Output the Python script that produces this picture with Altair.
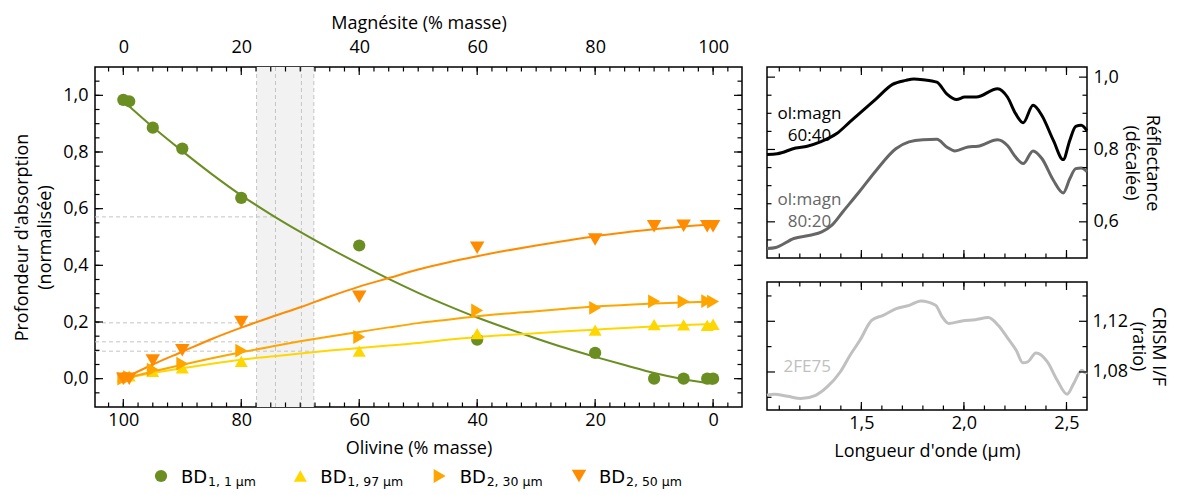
import altair as alt
import pandas as pd

# ---------------- data ----------------
series_keys = ["BD1.1", "BD1.97", "BD2.30", "BD2.50"]
legend_sub = ["1, 1 \u03bcm", "1, 97 \u03bcm", "2, 30 \u03bcm", "2, 50 \u03bcm"]
series_colors = ["#6b8e23", "#ffd700", "#ffa500", "#ff8c00"]
series_shapes = ["circle", "triangle-up", "triangle-right", "triangle-down"]
series_sizes = [150, 210, 210, 210]

olivine = [100, 99, 95, 90, 80, 60, 40, 20, 10, 5, 1, 0]
bd_1_1 = [0.984, 0.979, 0.886, 0.812, 0.638, 0.470, 0.138, 0.091, 0.0, 0.0, 0.0, 0.0]
bd_1_97 = [0.008, 0.010, 0.026, 0.038, 0.061, 0.097, 0.159, 0.171, 0.191, 0.190, 0.188, 0.192]
bd_2_30 = [0.0, 0.005, 0.032, 0.053, 0.099, 0.147, 0.241, 0.250, 0.273, 0.272, 0.274, 0.272]
bd_2_50 = [0.0, 0.0, 0.064, 0.100, 0.200, 0.289, 0.462, 0.491, 0.538, 0.540, 0.538, 0.538]

fit_olivine = [100, 95, 90, 85, 80, 75, 70, 65, 60, 55, 50, 45, 40, 35, 30, 25, 20, 15, 10, 5, 0]
fit_1_1 = [0.980, 0.888, 0.803, 0.722, 0.647, 0.580, 0.518, 0.460, 0.405, 0.352, 0.303, 0.258, 0.216,
           0.178, 0.142, 0.108, 0.077, 0.048, 0.020, -0.002, -0.018]
fit_1_97 = [0.0, 0.020, 0.037, 0.053, 0.067, 0.078, 0.089, 0.099, 0.108, 0.117, 0.126, 0.137, 0.147,
            0.154, 0.160, 0.167, 0.173, 0.179, 0.184, 0.189, 0.193]
fit_2_30 = [0.0, 0.025, 0.049, 0.072, 0.093, 0.113, 0.132, 0.149, 0.165, 0.181, 0.196, 0.208, 0.220,
            0.230, 0.238, 0.247, 0.255, 0.260, 0.265, 0.269, 0.272]
fit_2_50 = [0.0, 0.050, 0.095, 0.140, 0.180, 0.217, 0.252, 0.290, 0.325, 0.355, 0.385, 0.410, 0.432,
            0.452, 0.470, 0.487, 0.503, 0.516, 0.527, 0.537, 0.544]

band_lo = [67.7]
band_hi = [77.4]
vline_x = [77.4, 74.2, 69.8, 67.7]
hline_y = [0.571, 0.197, 0.130, 0.097]
hline_end = [74.2, 77.4, 71.0, 67.7]

wl_6040 = [1.04, 1.09, 1.18, 1.236, 1.30, 1.38, 1.444, 1.508, 1.572, 1.652, 1.716, 1.756, 1.80, 1.868,
           1.916, 1.964, 2.004, 2.06, 2.164, 2.212, 2.252, 2.289, 2.337, 2.38, 2.436, 2.484, 2.516,
           2.545, 2.572, 2.60]
refl_6040 = [0.786, 0.788, 0.804, 0.809, 0.821, 0.844, 0.876, 0.908, 0.940, 0.980, 0.991, 0.995, 0.993,
             0.986, 0.954, 0.938, 0.945, 0.945, 0.968, 0.945, 0.899, 0.874, 0.922, 0.894, 0.825, 0.772,
             0.825, 0.864, 0.867, 0.852]
wl_8020 = [1.04, 1.083, 1.171, 1.25, 1.307, 1.355, 1.41, 1.49, 1.572, 1.668, 1.732, 1.80, 1.868, 1.916,
           1.956, 2.02, 2.068, 2.164, 2.212, 2.252, 2.289, 2.337, 2.38, 2.436, 2.484, 2.516, 2.545,
           2.572, 2.60]
refl_8020 = [0.526, 0.529, 0.554, 0.563, 0.572, 0.590, 0.628, 0.683, 0.742, 0.802, 0.821, 0.827, 0.828,
             0.807, 0.796, 0.807, 0.809, 0.827, 0.811, 0.779, 0.761, 0.796, 0.775, 0.715, 0.680, 0.719,
             0.747, 0.749, 0.739]

wl_crism = [1.04, 1.075, 1.14, 1.205, 1.277, 1.333, 1.397, 1.445, 1.493, 1.55, 1.606, 1.67, 1.733, 1.79,
            1.862, 1.894, 1.926, 1.99, 2.055, 2.119, 2.167, 2.215, 2.255, 2.287, 2.311, 2.351, 2.407,
            2.455, 2.503, 2.535, 2.575, 2.591, 2.60]
crism = [1.0616, 1.0624, 1.0608, 1.0590, 1.0616, 1.0682, 1.0800, 1.0932, 1.1050, 1.1208, 1.1247, 1.1300,
         1.1326, 1.1360, 1.1326, 1.1235, 1.1182, 1.1203, 1.1213, 1.1229, 1.1168, 1.1063, 1.0971, 1.0872,
         1.0880, 1.0950, 1.0880, 1.0734, 1.0624, 1.0708, 1.0813, 1.0793, 1.0800]

ann_6040_text = ["ol:magn\n60:40"]
ann_8020_text = ["ol:magn\n80:20"]
ann_refl_x = [1.247]
ann_6040_y = [0.899]
ann_8020_y = [0.659]
ann_crism_text = ["2FE75"]
ann_crism_x = [1.236]
ann_crism_y = [1.0842]

# tick positions
lx_major = [0, 20, 40, 60, 80, 100]
lx_minor = [round(-2.5 + 2.5 * i, 2) for i in range(43)]
ly_major = [0.0, 0.2, 0.4, 0.6, 0.8, 1.0]
ly_minor = [round(-0.05 + 0.05 * i, 2) for i in range(23)]
rx_major = [1.5, 2.0, 2.5]
rx_minor = [round(1.1 + 0.1 * i, 2) for i in range(15)]
rt_y_major = [0.6, 0.8, 1.0]
rt_y_minor = [0.55, 0.65, 0.70, 0.75, 0.85, 0.90, 0.95]
rb_y_major = [1.08, 1.12]
rb_y_minor = [1.06, 1.10, 1.14]

# ---------------- styling ----------------
FONT = "Open Sans"
FS = 18
TMAJ, TMIN = 8, 4.5
LW, LH = 647, 340
RW, RTH, RBH = 320, 191, 128
X_LEFT_DOMAIN = [-4.9, 104.8]

comma1 = "replace(format(datum.value, '.1f'), '.', ',')"
comma2 = "replace(format(datum.value, '.2f'), '.', ',')"

color_scale = alt.Scale(domain=series_keys, range=series_colors)
shape_scale = alt.Scale(domain=series_keys, range=series_shapes)
size_scale = alt.Scale(domain=series_keys, range=series_sizes)


def frame_ticks(xs, ys, xmaj, xmin, ymaj, ymin, W, H):
    layers = []
    for vals, L in ((xmaj, TMAJ), (xmin, TMIN)):
        d = pd.DataFrame({"v": vals})
        b = alt.Chart(d).mark_rule(color="black", strokeWidth=1.2)
        xe = alt.X("v:Q", scale=xs, axis=None)
        layers.append(b.encode(x=xe, y=alt.value(H), y2=alt.value(H - L)))
        layers.append(b.encode(x=xe, y=alt.value(0), y2=alt.value(L)))
    for vals, L in ((ymaj, TMAJ), (ymin, TMIN)):
        d = pd.DataFrame({"v": vals})
        b = alt.Chart(d).mark_rule(color="black", strokeWidth=1.2)
        ye = alt.Y("v:Q", scale=ys, axis=None)
        layers.append(b.encode(y=ye, x=alt.value(0), x2=alt.value(L)))
        layers.append(b.encode(y=ye, x=alt.value(W), x2=alt.value(W - L)))
    return layers


# ---------------- left panel ----------------
xs_left = alt.Scale(domain=X_LEFT_DOMAIN, reverse=True, nice=False, zero=False)
ys_left = alt.Scale(domain=[-0.1, 1.1], nice=False, zero=False)

ax_bottom = alt.Axis(orient="bottom", values=lx_major, title="Olivine (% masse)",
                     labelExpr="format(datum.value, 'd')", labelPadding=4, titlePadding=10)
ax_top = alt.Axis(orient="top", values=lx_major, title="Magnésite (% masse)",
                  labelExpr="format(100 - datum.value, 'd')", labelPadding=11, titlePadding=6)
ax_left = alt.Axis(orient="left", values=ly_major, title=["Profondeur d'absorption", "(normalisée)"],
                   labelExpr=comma1, labelPadding=7, titlePadding=8, titleLineHeight=23)

pts_rows = []
for key, vals in zip(series_keys, [bd_1_1, bd_1_97, bd_2_30, bd_2_50]):
    for o, v in zip(olivine, vals):
        pts_rows.append({"olivine": o, "value": v, "series": key})
pts_df = pd.DataFrame(pts_rows)

fit_rows = []
for key, vals in zip(series_keys, [fit_1_1, fit_1_97, fit_2_30, fit_2_50]):
    for o, v in zip(fit_olivine, vals):
        fit_rows.append({"olivine": o, "value": v, "series": key})
fit_df = pd.DataFrame(fit_rows)

band = alt.Chart(pd.DataFrame({"lo": band_lo, "hi": band_hi})).mark_rect(color="#f2f2f2").encode(
    x=alt.X("lo:Q", scale=xs_left, axis=ax_top), x2="hi:Q")
vlines = alt.Chart(pd.DataFrame({"x": vline_x})).mark_rule(
    color="#c4c4c4", strokeDash=[4, 3], strokeWidth=1).encode(x=alt.X("x:Q", scale=xs_left, axis=None))
hlines = alt.Chart(pd.DataFrame({"y": hline_y, "x1": hline_end,
                                 "x0": [X_LEFT_DOMAIN[1]] * len(hline_y)})).mark_rule(
    color="#c4c4c4", strokeDash=[4, 3], strokeWidth=1).encode(
    x=alt.X("x0:Q", scale=xs_left, axis=None), x2="x1:Q",
    y=alt.Y("y:Q", scale=ys_left, axis=None))
fits = alt.Chart(fit_df).mark_line(strokeWidth=2, interpolate="monotone").encode(
    x=alt.X("olivine:Q", scale=xs_left, axis=None),
    y=alt.Y("value:Q", scale=ys_left, axis=None),
    color=alt.Color("series:N", scale=color_scale, legend=None),
    detail="series:N")
pts = alt.Chart(pts_df).mark_point(filled=True, opacity=1).encode(
    x=alt.X("olivine:Q", scale=xs_left, axis=ax_bottom),
    y=alt.Y("value:Q", scale=ys_left, axis=ax_left),
    color=alt.Color("series:N", scale=color_scale, legend=None),
    shape=alt.Shape("series:N", scale=shape_scale, legend=None),
    size=alt.Size("series:N", scale=size_scale, legend=None))

left = alt.layer(band, vlines, hlines, fits, pts,
                 *frame_ticks(xs_left, ys_left, lx_major, lx_minor, ly_major, ly_minor, LW, LH)
                 ).properties(width=LW, height=LH).resolve_axis(x="independent", y="independent")

# ---------------- right top panel ----------------
xs_r = alt.Scale(domain=[1.04, 2.6], nice=False, zero=False)
ys_rt = alt.Scale(domain=[0.50, 1.028], nice=False, zero=False)
ys_rb = alt.Scale(domain=[1.05, 1.151], nice=False, zero=False)

ax_rt = alt.Axis(orient="right", values=rt_y_major, title=["Réflectance", "(décalée)"],
                 labelExpr=comma1, labelPadding=6, titlePadding=3, titleLineHeight=21)
ax_rb_y = alt.Axis(orient="right", values=rb_y_major, title=["CRISM I/F", "(ratio)"],
                   labelExpr=comma2, labelPadding=5, titlePadding=1, titleLineHeight=20)
ax_rb_x = alt.Axis(orient="bottom", values=rx_major, title="Longueur d'onde (µm)",
                   labelExpr=comma1, labelPadding=4, titlePadding=10)

l6040 = alt.Chart(pd.DataFrame({"wl": wl_6040, "r": refl_6040})).mark_line(
    color="black", strokeWidth=3, interpolate="monotone").encode(
    x=alt.X("wl:Q", scale=xs_r, axis=None), y=alt.Y("r:Q", scale=ys_rt, axis=ax_rt))
l8020 = alt.Chart(pd.DataFrame({"wl": wl_8020, "r": refl_8020})).mark_line(
    color="#666666", strokeWidth=3, interpolate="monotone").encode(
    x=alt.X("wl:Q", scale=xs_r, axis=None), y=alt.Y("r:Q", scale=ys_rt, axis=None))
ann_6040 = alt.Chart(pd.DataFrame({"t": ann_6040_text, "x": ann_refl_x, "y": ann_6040_y})).mark_text(
    fontSize=17, lineBreak="\n", lineHeight=22, align="center", baseline="middle", color="black").encode(
    x=alt.X("x:Q", scale=xs_r, axis=None), y=alt.Y("y:Q", scale=ys_rt, axis=None), text="t:N")
ann_8020 = alt.Chart(pd.DataFrame({"t": ann_8020_text, "x": ann_refl_x, "y": ann_8020_y})).mark_text(
    fontSize=17, lineBreak="\n", lineHeight=22, align="center", baseline="middle", color="#666666").encode(
    x=alt.X("x:Q", scale=xs_r, axis=None), y=alt.Y("y:Q", scale=ys_rt, axis=None), text="t:N")

rtop = alt.layer(l6040, l8020, ann_6040, ann_8020,
                 *frame_ticks(xs_r, ys_rt, rx_major, rx_minor, rt_y_major, rt_y_minor, RW, RTH)
                 ).properties(width=RW, height=RTH).resolve_axis(x="independent", y="independent")

# ---------------- right bottom panel ----------------
lcrism = alt.Chart(pd.DataFrame({"wl": wl_crism, "r": crism})).mark_line(
    color="#c0c0c0", strokeWidth=3, interpolate="monotone").encode(
    x=alt.X("wl:Q", scale=xs_r, axis=ax_rb_x), y=alt.Y("r:Q", scale=ys_rb, axis=ax_rb_y))
ann_rb = alt.Chart(pd.DataFrame({"t": ann_crism_text, "x": ann_crism_x, "y": ann_crism_y})).mark_text(
    fontSize=17, color="#c0c0c0", align="center", baseline="middle").encode(
    x=alt.X("x:Q", scale=xs_r, axis=None), y=alt.Y("y:Q", scale=ys_rb, axis=None), text="t:N")

rbot = alt.layer(lcrism, ann_rb,
                 *frame_ticks(xs_r, ys_rb, rx_major, rx_minor, rb_y_major, rb_y_minor, RW, RBH)
                 ).properties(width=RW, height=RBH).resolve_axis(x="independent", y="independent")

right = alt.vconcat(rtop, rbot, spacing=20)

# ---------------- legend row ----------------
leg_df = pd.DataFrame({"series": series_keys, "main": ["BD"] * 4, "sub": legend_sub})
lx = alt.X("series:N", scale=alt.Scale(domain=series_keys, type="point", range=[66, 484], padding=0),
           axis=None)
leg_sym = alt.Chart(leg_df).mark_point(filled=True, opacity=1).encode(
    x=lx, y=alt.value(8),
    color=alt.Color("series:N", scale=color_scale, legend=None),
    shape=alt.Shape("series:N", scale=shape_scale, legend=None),
    size=alt.Size("series:N", scale=size_scale, legend=None))
leg_main = alt.Chart(leg_df).mark_text(align="left", baseline="alphabetic", dx=20, dy=6.5, fontSize=18,
                                       font="DejaVu Sans", color="black").encode(
    x=lx, y=alt.value(8), text="main:N")
leg_sub = alt.Chart(leg_df).mark_text(align="left", baseline="alphabetic", dx=47, dy=9.5, fontSize=12.5,
                                      font="DejaVu Sans", color="black").encode(
    x=lx, y=alt.value(8), text="sub:N")
legend = alt.layer(leg_sym, leg_main, leg_sub).properties(
    width=LW, height=16, view=alt.ViewBackground(stroke="transparent"))

chart = alt.vconcat(alt.hconcat(left, right, spacing=16), legend, spacing=6).configure(
    font=FONT, padding={"left": 5, "top": 5, "right": 5, "bottom": 0}).configure_view(
    stroke="black", strokeWidth=1.5).configure_axis(
    labelFontSize=FS, titleFontSize=FS, titleFontWeight="normal", labelColor="black",
    titleColor="black", ticks=False, domain=False, grid=False, labelFont=FONT, titleFont=FONT)

chart.save("out.html", embed_options={"renderer": "svg", "actions": False})
